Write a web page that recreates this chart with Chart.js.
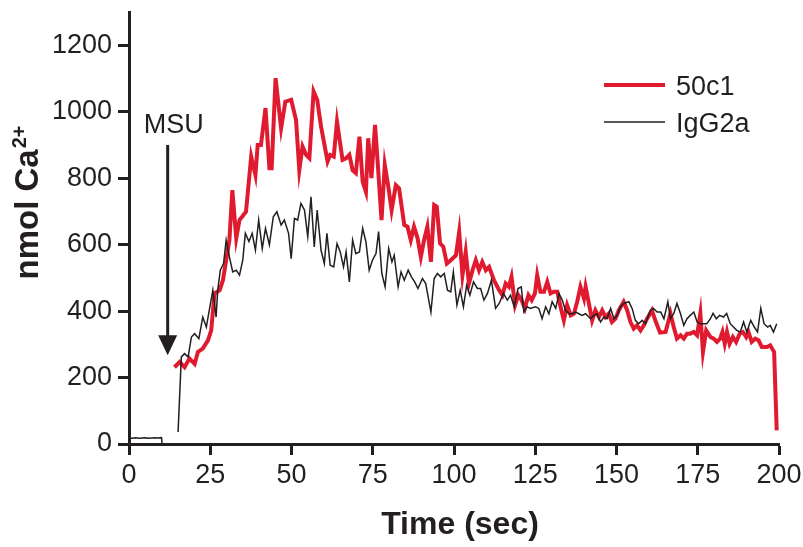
<!DOCTYPE html>
<html>
<head>
<meta charset="utf-8">
<title>Ca2+ response</title>
<script src="https://cdn.jsdelivr.net/npm/chart.js@4"></script>
<style>
  html, body { margin: 0; padding: 0; background: #fff; }
  #chart { display: block; }
</style>
</head>
<body>
<canvas id="chart" width="803" height="547"></canvas>
<script>
// values (time in sec, nmol Ca2+)
const redTime = [14.0, 15.6, 17.1, 18.6, 20.2, 21.2, 22.7, 24.3, 25.3, 26.3, 27.9, 28.9, 29.9, 30.9, 31.8, 33.0, 34.0, 36.0, 37.6, 38.9,
  39.6, 40.6, 42.0, 43.2, 43.9, 45.1, 46.8, 48.1, 49.9, 51.4, 52.4, 53.4, 54.5, 55.5, 56.8, 57.9, 59.1, 61.1, 61.9, 63.0,
  64.0, 65.7, 66.8, 67.8, 68.8, 69.8, 70.9, 71.9, 72.9, 73.6, 74.6, 75.7, 76.5, 77.7, 78.7, 79.8, 80.8, 82.1, 83.1, 84.7,
  85.7, 86.7, 87.7, 88.8, 89.8, 90.8, 91.8, 92.9, 93.9, 94.7, 95.7, 96.7, 97.8, 99.0, 100.6, 101.6, 102.6, 103.6, 104.6, 105.7,
  106.7, 107.7, 108.7, 109.8, 110.8, 112.3, 113.9, 114.9, 115.9, 116.9, 117.7, 118.8, 119.8, 120.8, 121.8, 122.9, 123.9, 124.9, 125.6, 126.6,
  127.7, 128.7, 129.7, 130.7, 131.8, 132.8, 133.8, 134.8, 135.9, 136.9, 137.9, 138.9, 140.0, 140.5, 141.5, 142.5, 143.5, 144.6, 145.6, 146.6,
  147.6, 148.6, 149.7, 150.7, 152.2, 153.3, 154.3, 155.3, 156.3, 157.4, 158.4, 159.4, 160.9, 162.0, 163.4, 165.1, 166.6, 167.6, 168.6, 169.7,
  170.7, 171.7, 172.7, 173.8, 174.8, 175.8, 176.6, 177.6, 178.9, 179.9, 180.9, 181.9, 182.6, 183.3, 184.0, 184.8, 185.8, 186.8, 187.9, 188.9,
  189.9, 190.6, 191.6, 192.7, 193.7, 194.7, 196.3, 197.3, 198.5, 199.3];
const redNmol = [231, 247, 231, 257, 241, 277, 287, 312, 342, 453, 463, 493, 553, 614, 764, 619, 674, 699, 865, 809,
  900, 900, 1011, 830, 830, 1101, 950, 1030, 1036, 975, 824, 895, 870, 860, 1061, 1036, 955, 850, 870, 865,
  970, 855, 860, 870, 824, 815, 925, 789, 759, 920, 800, 960, 850, 674, 840, 774, 704, 779, 769, 659,
  654, 614, 654, 619, 563, 614, 654, 548, 719, 714, 604, 594, 543, 553, 568, 639, 508, 578, 483, 523,
  553, 523, 548, 523, 533, 493, 463, 448, 483, 473, 503, 418, 448, 433, 408, 448, 433, 453, 508, 458,
  458, 488, 453, 458, 458, 412, 372, 418, 387, 392, 428, 473, 438, 473, 423, 372, 402, 382, 402, 382,
  392, 367, 377, 402, 428, 402, 367, 347, 357, 342, 357, 377, 402, 370, 335, 337, 393, 352, 317, 327,
  317, 332, 332, 337, 327, 393, 277, 342, 322, 317, 307, 317, 337, 302, 337, 302, 322, 307, 332, 337,
  322, 337, 307, 317, 312, 292, 292, 297, 277, 41];

const igTime = [0, 1, 2, 3, 4, 5, 6, 7, 8, 9, 10, 10.2, 12, 15.1, 16.1, 17.1, 18.2, 19.2, 20.2, 21.5,
  22.7, 23.8, 24.8, 25.8, 26.8, 27.3, 28.1, 29.1, 29.9, 30.9, 31.9, 33.0, 34.0, 35.0, 35.8, 36.9, 37.9, 38.9, 39.9, 41.0,
  42.0, 43.2, 44.4, 45.5, 46.8, 47.8, 49.1, 49.9, 50.9, 51.9, 52.9, 54.0, 55.0, 56.0, 57.0, 57.9, 59.1, 60.1, 60.9, 61.9,
  63.0, 64.0, 65.0, 66.0, 66.8, 67.8, 68.8, 69.8, 70.9, 71.9, 72.9, 73.9, 74.9, 76.0, 76.8, 77.8, 78.8, 79.9, 80.9, 81.6,
  82.8, 83.7, 84.7, 85.9, 86.9, 87.9, 88.9, 90.3, 91.3, 92.9, 93.9, 94.9, 95.9, 97.0, 98.0, 99.0, 99.8, 100.9, 101.9, 102.9,
  103.9, 104.9, 106.0, 107.2, 108.2, 109.2, 110.3, 111.5, 112.8, 113.9, 115.2, 116.4, 117.4, 118.5, 119.7, 120.7, 121.5, 122.5, 123.5, 125.1,
  126.1, 127.1, 128.2, 129.2, 130.2, 131.3, 132.3, 133.3, 134.3, 135.4, 136.4, 137.4, 138.4, 139.4, 140.5, 142.0, 143.0, 144.0, 145.1, 146.1,
  147.1, 148.2, 149.2, 150.2, 151.2, 152.2, 153.8, 154.8, 155.8, 156.8, 157.9, 158.9, 160.4, 161.4, 162.5, 163.6, 164.6, 165.8, 166.6, 167.6,
  168.6, 169.7, 170.7, 171.7, 172.7, 173.8, 174.8, 175.8, 176.8, 177.8, 178.9, 179.7, 180.7, 181.7, 182.9, 183.9, 185.0, 186.0, 187.0, 188.1,
  189.1, 190.1, 191.3, 192.4, 193.4, 194.4, 195.4, 196.5, 197.3, 198.3, 199.3];
const igNmol = [18, 17, 19, 17, 18, 19, 17, 18, 19, 18, 19, 0, null, 36, 262, 272, 262, 322, 332, 317,
  382, 352, 408, 463, 382, 463, 523, 543, 614, 563, 518, 523, 508, 553, 634, 609, 634, 583, 674, 588,
  649, 599, 684, 699, 659, 674, 634, 558, 679, 674, 724, 704, 624, 744, 593, 704, 583, 543, 634, 538,
  533, 603, 578, 533, 578, 488, 614, 573, 578, 649, 608, 523, 553, 573, 639, 513, 473, 588, 548, 568,
  473, 518, 493, 523, 503, 488, 468, 498, 483, 397, 498, 513, 503, 513, 463, 458, 518, 418, 463, 413,
  478, 448, 488, 468, 468, 433, 453, 493, 408, 423, 453, 433, 448, 413, 468, 473, 397, 413, 408, 413,
  408, 377, 413, 392, 428, 408, 453, 433, 402, 392, 392, 397, 392, 387, 392, 377, 387, 392, 367, 382,
  377, 408, 377, 387, 413, 423, 428, 408, 372, 362, 372, 362, 402, 408, 397, 397, 377, 428, 377, 392,
  423, 392, 357, 377, 387, 397, 367, 362, 362, 362, 377, 393, 377, 387, 382, 393, 362, 352, 342, 337,
  367, 337, 372, 352, 337, 408, 362, 352, 357, 337, 362];

const xTickStep = 25;
const yTickStep = 200;
const yTickTop = 1200;

const INK = '#231f20';
const RED = '#e01a2f';
const FONT = '"Liberation Sans", Arial, Helvetica, sans-serif';

const toPoints = (xs, ys) => xs.map((x, i) => ({ x: x, y: ys[i] }));

// arrow, legend and axis titles drawn on top of the chart
const extras = {
  id: 'extras',
  afterDraw(chart) {
    const { ctx, chartArea, scales } = chart;
    ctx.save();
    ctx.fillStyle = INK;
    ctx.strokeStyle = INK;

    // MSU arrow
    const ax = scales.x.getPixelForValue(11.9);
    const aTop = scales.y.getPixelForValue(900);
    const aTip = scales.y.getPixelForValue(267);
    ctx.lineWidth = 3;
    ctx.beginPath();
    ctx.moveTo(ax, aTop);
    ctx.lineTo(ax, aTip - 18);
    ctx.stroke();
    ctx.beginPath();
    ctx.moveTo(ax - 9.5, aTip - 20);
    ctx.lineTo(ax + 9.5, aTip - 20);
    ctx.lineTo(ax, aTip);
    ctx.closePath();
    ctx.fill();
    ctx.font = '27px ' + FONT;
    ctx.textAlign = 'center';
    ctx.textBaseline = 'alphabetic';
    ctx.fillText('MSU', ax + 6, aTop - 12);

    // legend
    const lx = chartArea.right - 175;
    ctx.textAlign = 'left';
    ctx.lineWidth = 4;
    ctx.strokeStyle = RED;
    ctx.beginPath();
    ctx.moveTo(lx, 85);
    ctx.lineTo(lx + 61, 85);
    ctx.stroke();
    ctx.lineWidth = 1.5;
    ctx.strokeStyle = INK;
    ctx.beginPath();
    ctx.moveTo(lx, 122);
    ctx.lineTo(lx + 61, 122);
    ctx.stroke();
    ctx.fillText('50c1', lx + 72, 95);
    ctx.fillText('IgG2a', lx + 72, 132);

    // x title
    ctx.font = 'bold 32px ' + FONT;
    ctx.textAlign = 'center';
    ctx.fillText('Time (sec)', 460, 534);

    // y title with superscript
    ctx.translate(38, 203);
    ctx.rotate(-Math.PI / 2);
    ctx.textAlign = 'left';
    const main = 'nmol Ca';
    const sup = '2+';
    ctx.font = 'bold 33px ' + FONT;
    const w1 = ctx.measureText(main).width;
    ctx.font = 'bold 20px ' + FONT;
    const w2 = ctx.measureText(sup).width;
    const start = -(w1 + w2) / 2;
    ctx.font = 'bold 33px ' + FONT;
    ctx.fillText(main, start, 0);
    ctx.font = 'bold 20px ' + FONT;
    ctx.fillText(sup, start + w1 + 1, -12);
    ctx.restore();
  }
};

const axisStyle = {
  grid: { display: true, drawOnChartArea: false, drawTicks: true, tickLength: 11, tickWidth: 3, tickColor: INK },
  border: { display: true, width: 3, color: INK }
};

new Chart(document.getElementById('chart'), {
  type: 'line',
  data: {
    datasets: [
      {
        label: '50c1',
        data: toPoints(redTime, redNmol),
        borderColor: RED,
        borderWidth: 4,
        pointRadius: 0,
        tension: 0,
        order: 2
      },
      {
        label: 'IgG2a',
        data: toPoints(igTime, igNmol),
        borderColor: INK,
        borderWidth: 1.5,
        pointRadius: 0,
        tension: 0,
        spanGaps: false,
        order: 1
      }
    ]
  },
  options: {
    responsive: false,
    animation: false,
    devicePixelRatio: 1,
    layout: { padding: { top: 12, right: 24, left: 0, bottom: 0 } },
    plugins: { legend: { display: false }, tooltip: { enabled: false } },
    scales: {
      x: {
        type: 'linear',
        min: 0,
        max: 200,
        ticks: {
          stepSize: xTickStep, autoSkip: false, maxRotation: 0, padding: 4, color: INK,
          font: { size: 27, family: FONT },
          callback: v => String(v)
        },
        ...axisStyle,
        afterFit(scale) {
          scale.height = 103;
          scale.paddingLeft = 0;
          scale.paddingRight = 0;
        }
      },
      y: {
        min: 0,
        max: 1300,
        ticks: {
          stepSize: yTickStep, padding: 6, color: INK,
          font: { size: 27, family: FONT },
          callback: v => String(v)
        },
        afterBuildTicks(axis) { axis.ticks = axis.ticks.filter(t => t.value <= yTickTop); },
        ...axisStyle,
        afterFit(scale) {
          scale.width = 129;
          scale.paddingTop = 0;
          scale.paddingBottom = 0;
        }
      }
    }
  },
  plugins: [extras]
});
</script>
</body>
</html>
